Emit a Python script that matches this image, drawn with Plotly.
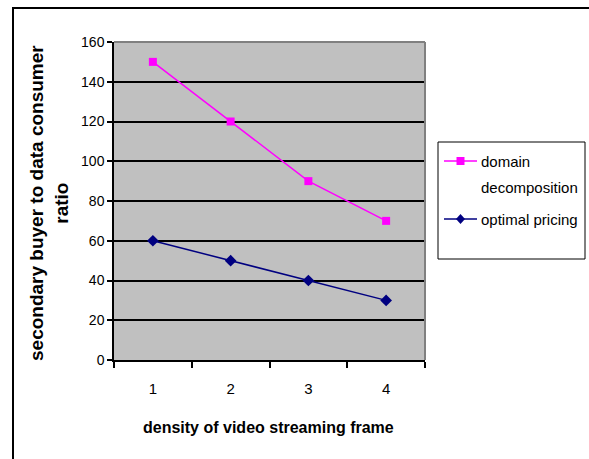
import plotly.graph_objects as go

categories = ["1", "2", "3", "4"]
domain_decomposition = [150, 120, 90, 70]
optimal_pricing = [60, 50, 40, 30]
y_ticks = [0, 20, 40, 60, 80, 100, 120, 140, 160]

W, H = 589, 459
L, R, T, B = 114, 425, 42, 360  # plot area in pixels


def px(x):
    return (x - L) / (R - L)


def py(y):
    return (B - y) / (B - T)


fig = go.Figure()
fig.add_trace(go.Scatter(
    x=categories, y=domain_decomposition, mode="lines+markers",
    name="domain decomposition",
    line=dict(color="#FF00FF", width=1.5),
    marker=dict(symbol="square", size=8, color="#FF00FF"),
    showlegend=False,
))
fig.add_trace(go.Scatter(
    x=categories, y=optimal_pricing, mode="lines+markers",
    name="optimal pricing",
    line=dict(color="#000080", width=1.5),
    marker=dict(symbol="diamond", size=9, color="#000080"),
    showlegend=False,
))

FAM = "Arial, 'Liberation Sans', sans-serif"
font = dict(family=FAM, size=14, color="black")
legend_font = dict(family=FAM, size=15, color="black")

shapes = [
    # outer chart border: top and left edges (right/bottom are outside the window)
    dict(type="line", xref="paper", yref="paper",
         x0=px(12), x1=px(589), y0=py(8), y1=py(8),
         line=dict(color="black", width=2)),
    dict(type="line", xref="paper", yref="paper",
         x0=px(13), x1=px(13), y0=py(8), y1=py(459),
         line=dict(color="black", width=2)),
    # plot area top/right gray border
    dict(type="line", xref="paper", yref="paper", x0=0, x1=1, y0=1, y1=1,
         line=dict(color="#808080", width=2)),
    dict(type="line", xref="paper", yref="paper", x0=1, x1=1, y0=0, y1=1,
         line=dict(color="#808080", width=2)),
    # legend box
    dict(type="rect", xref="paper", yref="paper",
         x0=px(438), x1=px(585), y0=py(142), y1=py(259),
         line=dict(color="black", width=1), fillcolor="white"),
    # legend samples
    dict(type="line", xref="paper", yref="paper",
         x0=px(444), x1=px(477), y0=py(161), y1=py(161),
         line=dict(color="#FF00FF", width=1.5)),
    dict(type="rect", xref="paper", yref="paper",
         x0=px(456.5), x1=px(464.5), y0=py(157), y1=py(165),
         line=dict(color="#FF00FF", width=0), fillcolor="#FF00FF"),
    dict(type="line", xref="paper", yref="paper",
         x0=px(444), x1=px(477), y0=py(219), y1=py(219),
         line=dict(color="#000080", width=1.5)),
    dict(type="path", xref="paper", yref="paper",
         path="M {} {} L {} {} L {} {} L {} {} Z".format(
             px(460.5), py(214), px(465), py(219), px(460.5), py(224), px(456), py(219)),
         line=dict(color="#000080", width=0), fillcolor="#000080"),
]

annotations = [
    dict(text="domain", xref="paper", yref="paper", x=px(479), y=py(161),
         xanchor="left", yanchor="middle", showarrow=False, font=legend_font),
    dict(text="decomposition", xref="paper", yref="paper", x=px(479), y=py(187),
         xanchor="left", yanchor="middle", showarrow=False, font=legend_font),
    dict(text="optimal pricing", xref="paper", yref="paper", x=px(479), y=py(219),
         xanchor="left", yanchor="middle", showarrow=False, font=legend_font),
    dict(text="<b>secondary buyer to data consumer<br>ratio</b>", xref="paper", yref="paper",
         x=px(49), y=py(203), xanchor="center", yanchor="middle", textangle=-90,
         showarrow=False, font=dict(family=FAM, size=19, color="black")),
    dict(text="<b>density of video streaming frame</b>", xref="paper", yref="paper",
         x=px(268), y=py(427), xanchor="center", yanchor="middle",
         showarrow=False, font=dict(family=FAM, size=16, color="black")),
]

fig.update_layout(
    width=W, height=H,
    margin=dict(l=L, r=W - R, t=T, b=H - B, pad=0),
    paper_bgcolor="white", plot_bgcolor="#C0C0C0",
    font=font,
    shapes=shapes, annotations=annotations,
    showlegend=False,
)
fig.update_xaxes(
    type="category", range=[-0.5, 3.5], tickson="boundaries",
    ticks="outside", ticklen=6, tickcolor="black", tickwidth=1.5,
    showline=True, linecolor="black", linewidth=1.5,
    showgrid=False, zeroline=False, tickfont=dict(family=FAM, size=15, color="black"),
    ticklabelstandoff=14,
)
fig.update_yaxes(
    range=[0, 160], tickvals=y_ticks,
    ticks="outside", ticklen=5, tickcolor="black", tickwidth=1.5,
    showline=True, linecolor="black", linewidth=1.5,
    showgrid=True, gridcolor="black", gridwidth=1.5, zeroline=False,
    tickfont=font,
)

fig.write_html(
    "out.html",
    config={"displayModeBar": False},
    post_script="document.body.style.margin='0';document.body.style.overflow='hidden';",
)
